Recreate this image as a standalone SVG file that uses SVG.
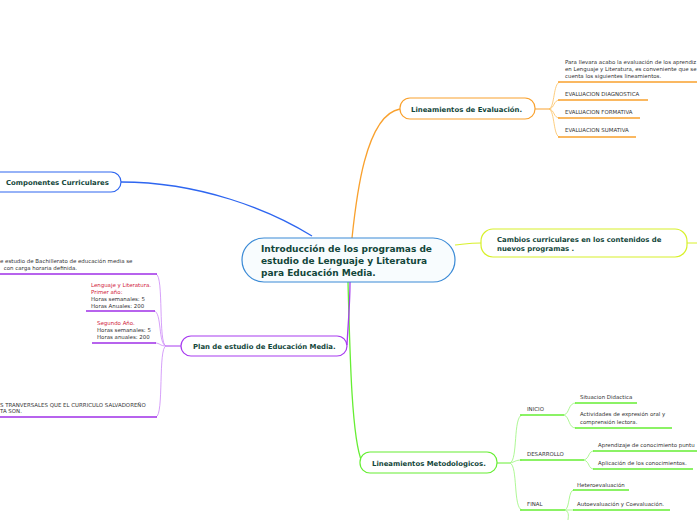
<svg xmlns="http://www.w3.org/2000/svg" width="697" height="520" viewBox="0 0 697 520">
<style>
.t{font-family:"DejaVu Sans",Verdana,sans-serif;fill:#333}
.h{font-family:"DejaVu Sans",Verdana,sans-serif;font-weight:bold;fill:#12463a}
.s{font-size:5.45px}
.r{fill:#d0203a}
</style>
<rect width="697" height="520" fill="#ffffff"/>
<g id="connectors" fill="none">
  <path d="M352,238 C356,200 365,115 400,109" stroke="#f9a12e" stroke-width="1.3"/>
  <path d="M312,236 C270,210 200,182 121,182" stroke="#2e66f0" stroke-width="1.3"/>
  <path d="M455,245 C465,244 470,243 481,243" stroke="#d8f02a" stroke-width="1.2"/>
  <path d="M687,243 L697,243" stroke="#d8f02a" stroke-width="1"/>
  <path d="M348,282 C350,360 352,440 362,462" stroke="#66ee33" stroke-width="1.3"/>
  <path d="M350,282 C350,305 348,325 347,345" stroke="#a83cf0" stroke-width="1.3"/>
  <!-- evaluation children -->
  <path d="M535,109 L549,109" stroke="#f9a12e" stroke-width="1"/>
  <path d="M549,109 C555,107 553,83 560,82" stroke="#fbc060" stroke-width="0.8"/>
  <path d="M549,109 C555,108 553,100 560,100" stroke="#fbc060" stroke-width="0.8"/>
  <path d="M549,109 C555,110 553,118 560,118" stroke="#fbc060" stroke-width="0.8"/>
  <path d="M549,109 C555,111 553,137 560,137" stroke="#fbc060" stroke-width="0.8"/>
  <path d="M558,82 H697 M558,100 H648 M558,118 H640 M558,137 H636" stroke="#f9a12e" stroke-width="1.3"/>
  <!-- plan children -->
  <path d="M181,346 L166,346" stroke="#a83cf0" stroke-width="1"/>
  <path d="M166,346 C158,344 164,276 156,274" stroke="#cc88f8" stroke-width="0.8"/>
  <path d="M166,346 C158,344 162,312 154,311" stroke="#cc88f8" stroke-width="0.8"/>
  <path d="M166,346 C160,346 160,343 155,343" stroke="#cc88f8" stroke-width="0.8"/>
  <path d="M166,346 C158,348 164,415 156,417" stroke="#cc88f8" stroke-width="0.8"/>
  <path d="M0,274 H157 M86,311 H155 M92,343 H156 M0,417 H157" stroke="#a030e8" stroke-width="1.6"/>
  <!-- metodologicos children -->
  <path d="M497,463 L510,463" stroke="#66ee33" stroke-width="1"/>
  <path d="M510,463 C518,460 513,417 522,415" stroke="#99f57a" stroke-width="0.8"/>
  <path d="M510,463 C515,462 515,460 522,460" stroke="#99f57a" stroke-width="0.8"/>
  <path d="M510,463 C518,466 513,508 522,510" stroke="#99f57a" stroke-width="0.8"/>
  <path d="M520,415 H564 M520,460 H584 M520,510 H565" stroke="#66ee33" stroke-width="1.6"/>
  <path d="M564,415 C570,413 568,403 576,403 M564,415 C570,417 568,428 576,428" stroke="#99f57a" stroke-width="0.8"/>
  <path d="M584,460 C590,458 588,451 594,451 M584,460 C590,462 588,469 594,469" stroke="#99f57a" stroke-width="0.8"/>
  <path d="M565,510 C570,508 568,490 574,490 M565,510 L574,510 M565,510 C570,512 568,518 568,520" stroke="#99f57a" stroke-width="0.8"/>
  <path d="M575,403 H637 M575,428 H672 M593,451 H697 M593,469 H693 M573,490 H629 M573,510 H670" stroke="#66ee33" stroke-width="1.6"/>
</g>
<g id="center">
  <rect x="242" y="238" width="213" height="44" rx="22" fill="#f8fcfe" stroke="#3a8ad6" stroke-width="1.2"/>
  <text class="h" font-size="9"><tspan x="261" y="252">Introducción de los programas de</tspan><tspan x="261" y="264">estudio de Lenguaje y Literatura</tspan><tspan x="261" y="276">para Educación Media.</tspan></text>
</g>
<g id="evaluacion">
  <rect x="400" y="98" width="135" height="21" rx="10" fill="#fff" stroke="#f9a12e" stroke-width="1.2"/>
  <text class="h" font-size="6.9" x="411" y="112">Lineamientos de Evaluación.</text>
</g>
<g id="evaluacion-items">
  <text class="t s"><tspan x="565" y="64">Para llevara acabo la evaluación de los aprendiz</tspan><tspan x="565" y="71">en Lenguaje y Literatura, es conveniente que se</tspan><tspan x="565" y="78">cuenta los siguientes lineamientos.</tspan></text>
  <text class="t s" x="565" y="96">EVALUACION DIAGNOSTICA</text>
  <text class="t s" x="565" y="114">EVALUACION FORMATIVA</text>
  <text class="t s" x="565" y="132">EVALUACION SUMATIVA</text>
</g>
<g id="componentes">
  <rect x="-12" y="172" width="133" height="20" rx="10" fill="#fff" stroke="#2e66f0" stroke-width="1.2"/>
  <text class="h" font-size="6.9" x="6" y="185">Componentes Curriculares</text>
</g>
<g id="cambios">
  <rect x="481" y="229" width="206" height="28" rx="12" fill="#fff" stroke="#d8f02a" stroke-width="1.2"/>
  <text class="h" font-size="6.9"><tspan x="497" y="242">Cambios curriculares en los contenidos de</tspan><tspan x="497" y="251">nuevos programas .</tspan></text>
</g>
<g id="plan">
  <rect x="181" y="336" width="166" height="20" rx="10" fill="#fff" stroke="#a83cf0" stroke-width="1.2"/>
  <text class="h" font-size="6.9" x="193" y="349">Plan de estudio de Educación Media.</text>
</g>
<g id="plan-items">
  <text class="t s"><tspan x="0" y="263">e estudio de Bachillerato de educación media se</tspan><tspan x="2" y="270"> con carga horaria definida.</tspan></text>
  <text class="t s"><tspan class="r" x="91" y="287">Lenguaje y Literatura.</tspan><tspan class="r" x="91" y="294">Primer año:</tspan><tspan x="91" y="301">Horas semanales: 5</tspan><tspan x="91" y="308">Horas Anuales: 200</tspan></text>
  <text class="t s"><tspan class="r" x="97" y="325">Segundo Año.</tspan><tspan x="97" y="332">Horas semanales: 5</tspan><tspan x="97" y="339">Horas anuales: 200</tspan></text>
  <text class="t s"><tspan x="0" y="407">S TRANVERSALES QUE EL CURRICULO SALVADOREÑO</tspan><tspan x="0" y="413">TA SON.</tspan></text>
</g>
<g id="metodologicos">
  <rect x="360" y="452" width="137" height="21" rx="10" fill="#fff" stroke="#66ee33" stroke-width="1.2"/>
  <text class="h" font-size="6.9" x="372" y="466">Lineamientos Metodologicos.</text>
</g>
<g id="metodologicos-items">
  <text class="t s" x="527" y="411">INICIO</text>
  <text class="t s" x="527" y="456">DESARROLLO</text>
  <text class="t s" x="527" y="506">FINAL</text>
  <text class="t s" x="580" y="399">Situacion Didactica</text>
  <text class="t s"><tspan x="580" y="416">Actividades de expresión oral y</tspan><tspan x="580" y="424">comprensión lectora.</tspan></text>
  <text class="t s" x="598" y="447">Aprendizaje de conocimiento puntu</text>
  <text class="t s" x="598" y="465">Aplicación de los conocimientos.</text>
  <text class="t s" x="577" y="487">Heteroevaluación</text>
  <text class="t s" x="577" y="506">Autoevaluación y Coevaluación.</text>
</g>
</svg>
